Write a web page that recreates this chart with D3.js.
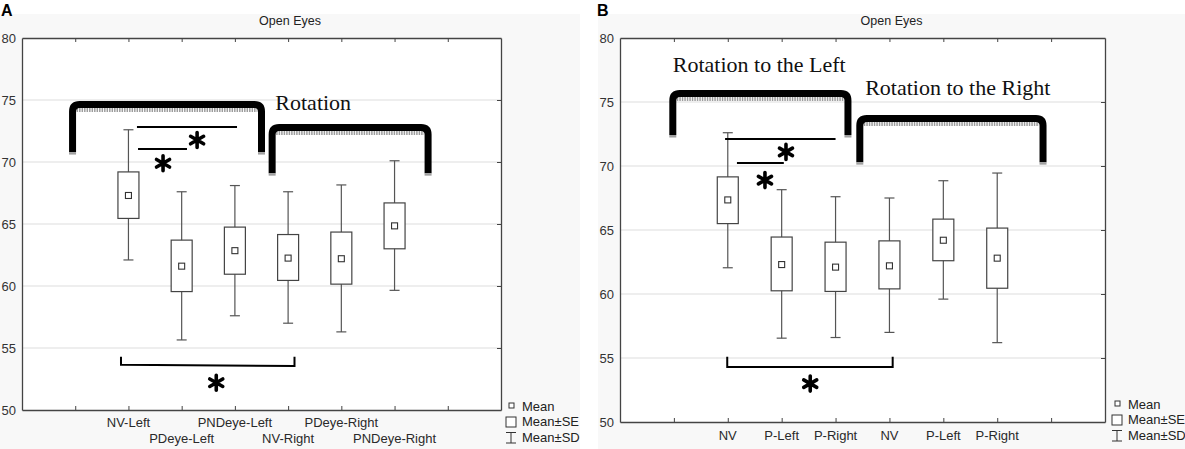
<!DOCTYPE html>
<html lang="en">
<head>
<meta charset="UTF-8">
<title>Open Eyes</title>
<style>
  body { margin: 0; background: #fff; }
  svg { display: block; }
  .tick line { stroke: #444; }
  .domain { stroke: #444; }
</style>
</head>
<body>
<script src="https://cdn.jsdelivr.net/npm/d3@7"></script>
<script>
// ---- data ----
var yTicks = [50, 55, 60, 65, 70, 75, 80];
var gridVals = [55, 60, 65, 70, 75];

var catsA = ["NV-Left", "PDeye-Left", "PNDeye-Left", "NV-Right", "PDeye-Right", "PNDeye-Right"];
var meanA = [67.3, 61.6, 62.85, 62.25, 62.2, 64.85];
var seLoA = [65.45, 59.55, 60.95, 60.45, 60.15, 63.0];
var seHiA = [69.2, 63.7, 64.75, 64.15, 64.35, 66.7];
var sdLoA = [62.1, 55.65, 57.6, 57.0, 56.3, 59.65];
var sdHiA = [72.6, 67.6, 68.1, 67.6, 68.15, 70.1];

var catsB = ["NV", "P-Left", "P-Right", "NV", "P-Left", "P-Right"];
var meanB = [67.35, 62.3, 62.1, 62.2, 64.2, 62.8];
var seLoB = [65.5, 60.25, 60.2, 60.4, 62.6, 60.45];
var seHiB = [69.15, 64.45, 64.05, 64.15, 65.85, 65.15];
var sdLoB = [62.05, 56.55, 56.6, 57.0, 59.6, 56.2];
var sdHiB = [72.6, 68.15, 67.6, 67.5, 68.85, 69.45];

// annotations, in axis units (x = slot index, y = value)
var bracketsA = [{x1: 0.95, x2: 4.5, top: 74.92, end: 70.8}, {x1: 4.7, x2: 7.63, top: 73.06, end: 69.1}];
var barsA = [{x1: 2.16, x2: 4.04, y: 72.82}, {x1: 2.18, x2: 3.1, y: 71.05}];
var starsA = [[3.29, 71.77], [2.65, 69.9], [3.65, 52.2]];
var lowA = {x1: 1.86, x2: 5.12, top: 54.3, y1: 53.65, y2: 53.55};
var labelsA = [{text: "Rotation", x: 4.76, y: 74.2}];

var bracketsB = [{x1: 0.98, x2: 4.23, top: 75.94, end: 72.42}, {x1: 4.45, x2: 7.85, top: 73.98, end: 70.3}];
var barsB = [{x1: 1.95, x2: 4.0, y: 72.1}, {x1: 2.17, x2: 3.04, y: 70.23}];
var starsB = [[3.08, 71.1], [2.69, 68.9], [3.53, 53.0]];
var lowB = {x1: 1.99, x2: 5.06, top: 55.1, y1: 54.3, y2: 54.3};
var labelsB = [{text: "Rotation to the Left", x: 0.98, y: 77.34}, {text: "Rotation to the Right", x: 4.55, y: 75.55}];

var W = 1185, H = 449;
var svg = d3.select("body").append("svg").attr("width", W).attr("height", H);

function drawPanel(p) {
  var g = svg.append("g");
  g.append("rect").attr("x", p.bgX).attr("y", 14).attr("width", p.bgW).attr("height", H - 14).attr("fill", "#f8f8f8");
  g.append("text").attr("x", p.letterX).attr("y", 16)
    .attr("font-family", "Liberation Sans, Arial, sans-serif").attr("font-weight", "bold").attr("font-size", 16)
    .text(p.letter);
  g.append("text").attr("x", p.bgX + p.bgW / 2).attr("y", 25).attr("text-anchor", "middle")
    .attr("font-family", "Liberation Sans, Arial, sans-serif").attr("font-size", 12.5).attr("fill", "#222")
    .text("Open Eyes");

  var x = d3.scaleLinear().domain([0, 9]).range([p.left, p.right]);
  var y = d3.scaleLinear().domain([50, 80]).range([p.bottom, 38]);

  g.append("rect").attr("x", p.left).attr("y", 38).attr("width", p.right - p.left).attr("height", p.bottom - 38).attr("fill", "#fff");

  g.selectAll(".grid").data(gridVals).enter().append("line")
    .attr("x1", p.left).attr("x2", p.right)
    .attr("y1", function(d) { return y(d); }).attr("y2", function(d) { return y(d); })
    .attr("stroke", "#dedede").attr("stroke-width", 1.2);

  var xt = d3.range(1, 9);
  g.append("g").attr("transform", "translate(0," + p.bottom + ")")
    .call(d3.axisBottom(x).tickValues(xt).tickSize(-4).tickFormat("").tickSizeOuter(0));
  g.append("g").attr("transform", "translate(0,38)")
    .call(d3.axisTop(x).tickValues(xt).tickSize(-4).tickFormat("").tickSizeOuter(0));
  g.append("g").attr("transform", "translate(" + p.right + ",0)")
    .call(d3.axisRight(y).tickValues(yTicks).tickSize(-4).tickFormat("").tickSizeOuter(0));
  var ya = g.append("g").attr("transform", "translate(" + p.left + ",0)")
    .call(d3.axisLeft(y).tickValues(yTicks).tickSize(0).tickPadding(6).tickSizeOuter(0));
  ya.selectAll("text").attr("font-family", "Liberation Sans, Arial, sans-serif").attr("font-size", 13).attr("fill", "#333");
  g.selectAll(".domain").attr("stroke", "#333").attr("stroke-width", 1.3);

  var idx = d3.range(p.cats.length);
  var pos = function(i) { return x(i + 2); };
  var bw = 21, cw = 10, ms = 6;

  // SD whiskers
  var wh = g.selectAll(".wh").data(idx).enter().append("g").attr("stroke", "#555").attr("stroke-width", 1.2);
  wh.append("line").attr("x1", pos).attr("x2", pos)
    .attr("y1", function(i) { return y(p.sdHi[i]); }).attr("y2", function(i) { return y(p.sdLo[i]); });
  wh.append("line").attr("x1", function(i) { return pos(i) - cw / 2; }).attr("x2", function(i) { return pos(i) + cw / 2; })
    .attr("y1", function(i) { return y(p.sdHi[i]); }).attr("y2", function(i) { return y(p.sdHi[i]); });
  wh.append("line").attr("x1", function(i) { return pos(i) - cw / 2; }).attr("x2", function(i) { return pos(i) + cw / 2; })
    .attr("y1", function(i) { return y(p.sdLo[i]); }).attr("y2", function(i) { return y(p.sdLo[i]); });

  // SE boxes
  g.selectAll(".box").data(idx).enter().append("rect")
    .attr("x", function(i) { return pos(i) - bw / 2; })
    .attr("y", function(i) { return y(p.seHi[i]); })
    .attr("width", bw)
    .attr("height", function(i) { return y(p.seLo[i]) - y(p.seHi[i]); })
    .attr("fill", "#fff").attr("stroke", "#444").attr("stroke-width", 1.2);

  // means
  g.selectAll(".mean").data(idx).enter().append("rect")
    .attr("x", function(i) { return pos(i) - ms / 2; })
    .attr("y", function(i) { return y(p.mean[i]) - ms / 2; })
    .attr("width", ms).attr("height", ms)
    .attr("fill", "#fff").attr("stroke", "#333").attr("stroke-width", 1.1);

  // category labels
  g.selectAll(".cat").data(idx).enter().append("text")
    .attr("x", pos)
    .attr("y", function(i) { return p.stagger ? (i % 2 ? 443 : 427) : 440; })
    .attr("text-anchor", "middle")
    .attr("font-family", "Liberation Sans, Arial, sans-serif").attr("font-size", 13).attr("fill", "#2a2a2a")
    .text(function(i) { return p.cats[i]; });

  // thick brackets
  p.brackets.forEach(function(b) {
    var x1 = x(b.x1), x2 = x(b.x2), t = y(b.top) + 3.5, e = y(b.end), r = 7;
    g.append("line").attr("x1", x1 + 4).attr("x2", x2 - 4).attr("y1", t + 5.5).attr("y2", t + 5.5)
      .attr("stroke", "#9c9c9c").attr("stroke-width", 4).attr("stroke-dasharray", "1.5,1");
    g.append("path")
      .attr("d", "M" + x1 + "," + e + "L" + x1 + "," + (t + r) + "Q" + x1 + "," + t + " " + (x1 + r) + "," + t +
        "L" + (x2 - r) + "," + t + "Q" + x2 + "," + t + " " + x2 + "," + (t + r) + "L" + x2 + "," + e)
      .attr("fill", "none").attr("stroke", "#000").attr("stroke-width", 7);
    [x1, x2].forEach(function(xx) {
      g.append("rect").attr("x", xx - 3.5).attr("y", e).attr("width", 7).attr("height", 2.5).attr("fill", "#a0a0a0");
    });
  });

  // significance bars
  g.selectAll(".sig").data(p.bars).enter().append("line")
    .attr("x1", function(d) { return x(d.x1); }).attr("x2", function(d) { return x(d.x2); })
    .attr("y1", function(d) { return y(d.y); }).attr("y2", function(d) { return y(d.y); })
    .attr("stroke", "#000").attr("stroke-width", 2);

  // lower bracket
  var lb = p.low;
  g.append("path")
    .attr("d", "M" + x(lb.x1) + "," + y(lb.top) + "L" + x(lb.x1) + "," + y(lb.y1) +
      "L" + x(lb.x2) + "," + y(lb.y2) + "L" + x(lb.x2) + "," + y(lb.top))
    .attr("fill", "none").attr("stroke", "#000").attr("stroke-width", 2);

  // asterisks
  var star = "M0,-7.5L0,7.5M-6.5,-3.75L6.5,3.75M-6.5,3.75L6.5,-3.75";
  g.selectAll(".star").data(p.stars).enter().append("path")
    .attr("transform", function(d) { return "translate(" + x(d[0]) + "," + y(d[1]) + ")"; })
    .attr("d", star).attr("stroke", "#000").attr("stroke-width", 3.6).attr("stroke-linecap", "round");

  g.selectAll(".lbl").data(p.labels).enter().append("text")
    .attr("x", function(d) { return x(d.x); }).attr("y", function(d) { return y(d.y); })
    .attr("font-family", "Liberation Serif, Times New Roman, serif").attr("font-size", 22).attr("fill", "#111")
    .text(function(d) { return d.text; });

  // legend
  var lg = g.append("g").attr("transform", "translate(" + p.legX + "," + p.legY + ")")
    .attr("font-family", "Liberation Sans, Arial, sans-serif").attr("font-size", 13).attr("fill", "#222");
  lg.append("rect").attr("x", 3).attr("y", -3).attr("width", 5).attr("height", 5).attr("fill", "#fff").attr("stroke", "#333");
  lg.append("text").attr("x", 16).attr("y", 4.5).text("Mean");
  lg.append("rect").attr("x", 0).attr("y", 11).attr("width", 10).attr("height", 10).attr("fill", "#fff").attr("stroke", "#333");
  lg.append("text").attr("x", 16).attr("y", 20).text("Mean\u00b1SE");
  lg.append("path").attr("d", "M0,26.5H10M5,26.5V37M0,37H10").attr("stroke", "#333").attr("fill", "none");
  lg.append("text").attr("x", 16).attr("y", 35.5).text("Mean\u00b1SD");
}

drawPanel({
  letter: "A", letterX: 1, bgX: 0, bgW: 580,
  left: 22, right: 501, bottom: 410,
  cats: catsA, mean: meanA, seLo: seLoA, seHi: seHiA, sdLo: sdLoA, sdHi: sdHiA,
  stagger: true, brackets: bracketsA, bars: barsA, stars: starsA, low: lowA, labels: labelsA,
  legX: 506, legY: 406
});
drawPanel({
  letter: "B", letterX: 597, bgX: 598, bgW: 587,
  left: 620, right: 1105, bottom: 422,
  cats: catsB, mean: meanB, seLo: seLoB, seHi: seHiB, sdLo: sdLoB, sdHi: sdHiB,
  stagger: false, brackets: bracketsB, bars: barsB, stars: starsB, low: lowB, labels: labelsB,
  legX: 1112, legY: 404
});
</script>
</body>
</html>
